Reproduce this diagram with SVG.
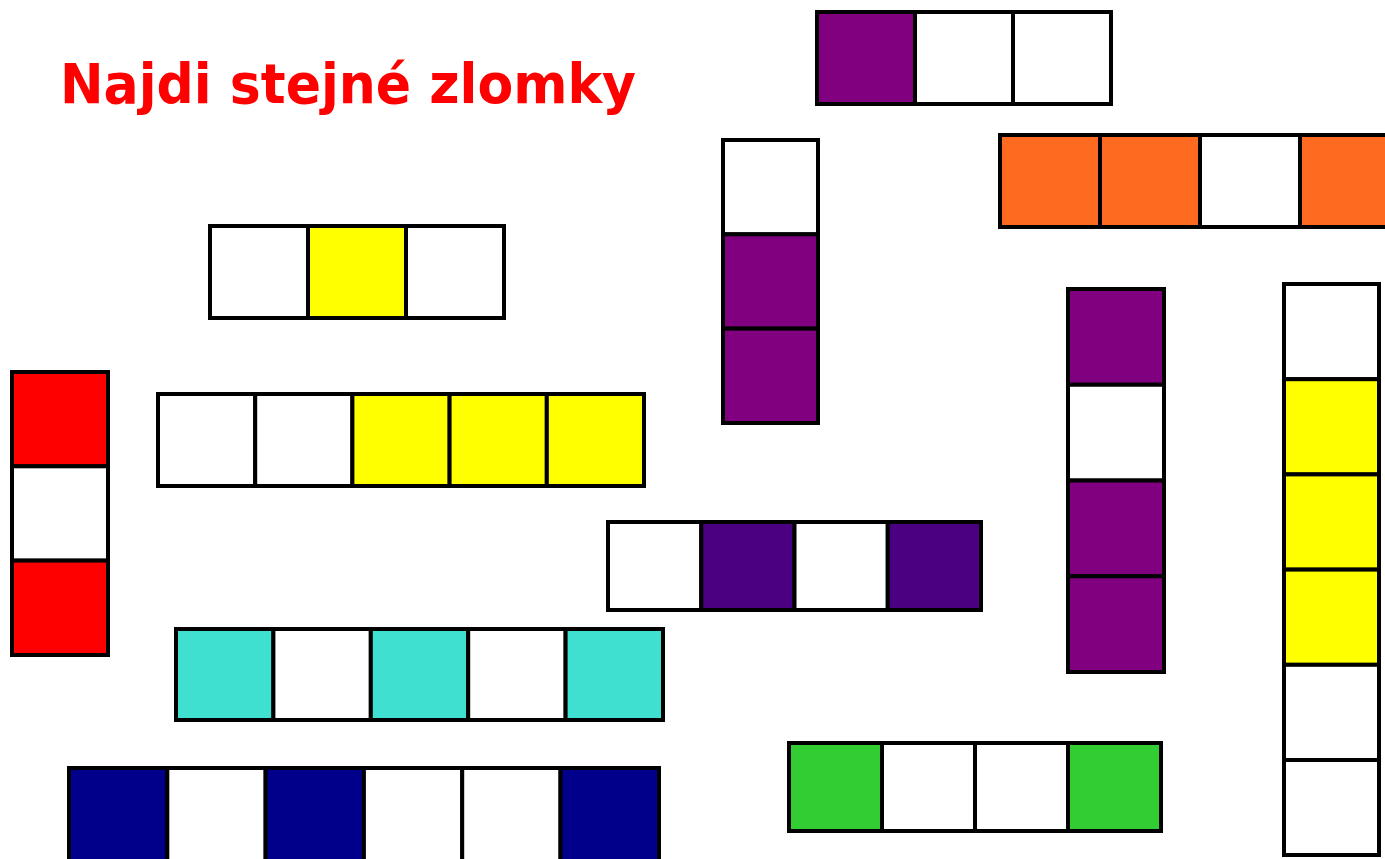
<svg xmlns="http://www.w3.org/2000/svg" width="1385" height="859" viewBox="0 0 1385 859">
<style>
.c rect{stroke:#000;stroke-width:4}
.w{fill:#fff}.p{fill:#800080}.o{fill:#ff6a21}.y{fill:#ffff00}.r{fill:#ff0000}
.i{fill:#4b0082}.t{fill:#40e0d0}.n{fill:#00008b}.g{fill:#32cd32}
.title{font-family:"DejaVu Sans",sans-serif;font-weight:bold;font-size:56px;fill:#ff0000}
</style>
<rect x="0" y="0" width="1385" height="859" fill="#fff"/>
<text class="title" x="60" y="103" textLength="576" lengthAdjust="spacingAndGlyphs">Najdi stejné zlomky</text>
<g id="barA" class="c">
<rect class="p" x="817" y="12" width="98" height="92"/>
<rect class="w" x="915" y="12" width="98" height="92"/>
<rect class="w" x="1013" y="12" width="98" height="92"/>
</g>
<g id="barB" class="c">
<rect class="o" x="1000" y="135" width="100" height="92"/>
<rect class="o" x="1100" y="135" width="100" height="92"/>
<rect class="w" x="1200" y="135" width="100" height="92"/>
<rect class="o" x="1300" y="135" width="100" height="92"/>
</g>
<g id="barC" class="c">
<rect class="w" x="723" y="140" width="95" height="94.3"/>
<rect class="p" x="723" y="234.3" width="95" height="94.3"/>
<rect class="p" x="723" y="328.6" width="95" height="94.4"/>
</g>
<g id="barD" class="c">
<rect class="w" x="210" y="226" width="98" height="92"/>
<rect class="y" x="308" y="226" width="98" height="92"/>
<rect class="w" x="406" y="226" width="98" height="92"/>
</g>
<g id="barE" class="c">
<rect class="r" x="12" y="372" width="96" height="94.3"/>
<rect class="w" x="12" y="466.3" width="96" height="94.3"/>
<rect class="r" x="12" y="560.6" width="96" height="94.4"/>
</g>
<g id="barF" class="c">
<rect class="w" x="158" y="394" width="97.2" height="92"/>
<rect class="w" x="255.2" y="394" width="97.2" height="92"/>
<rect class="y" x="352.4" y="394" width="97.2" height="92"/>
<rect class="y" x="449.6" y="394" width="97.2" height="92"/>
<rect class="y" x="546.8" y="394" width="97.2" height="92"/>
</g>
<g id="barG" class="c">
<rect class="p" x="1068" y="289" width="96" height="95.75"/>
<rect class="w" x="1068" y="384.75" width="96" height="95.75"/>
<rect class="p" x="1068" y="480.5" width="96" height="95.75"/>
<rect class="p" x="1068" y="576.25" width="96" height="95.75"/>
</g>
<g id="barH" class="c">
<rect class="w" x="1284" y="284" width="95" height="95.2"/>
<rect class="y" x="1284" y="379.2" width="95" height="95.2"/>
<rect class="y" x="1284" y="474.4" width="95" height="95.2"/>
<rect class="y" x="1284" y="569.6" width="95" height="95.2"/>
<rect class="w" x="1284" y="664.8" width="95" height="95.2"/>
<rect class="w" x="1284" y="760" width="95" height="95"/>
</g>
<g id="barI" class="c">
<rect class="w" x="608" y="522" width="93.25" height="88"/>
<rect class="i" x="701.25" y="522" width="93.25" height="88"/>
<rect class="w" x="794.5" y="522" width="93.25" height="88"/>
<rect class="i" x="887.75" y="522" width="93.25" height="88"/>
</g>
<g id="barJ" class="c">
<rect class="t" x="176" y="629" width="97.4" height="91"/>
<rect class="w" x="273.4" y="629" width="97.4" height="91"/>
<rect class="t" x="370.8" y="629" width="97.4" height="91"/>
<rect class="w" x="468.2" y="629" width="97.4" height="91"/>
<rect class="t" x="565.6" y="629" width="97.4" height="91"/>
</g>
<g id="barK" class="c">
<rect class="n" x="69" y="768" width="98.3" height="100"/>
<rect class="w" x="167.3" y="768" width="98.3" height="100"/>
<rect class="n" x="265.6" y="768" width="98.3" height="100"/>
<rect class="w" x="363.9" y="768" width="98.3" height="100"/>
<rect class="w" x="462.2" y="768" width="98.3" height="100"/>
<rect class="n" x="560.5" y="768" width="98.5" height="100"/>
</g>
<g id="barL" class="c">
<rect class="g" x="789" y="743" width="93" height="88"/>
<rect class="w" x="882" y="743" width="93" height="88"/>
<rect class="w" x="975" y="743" width="93" height="88"/>
<rect class="g" x="1068" y="743" width="93" height="88"/>
</g>
</svg>
